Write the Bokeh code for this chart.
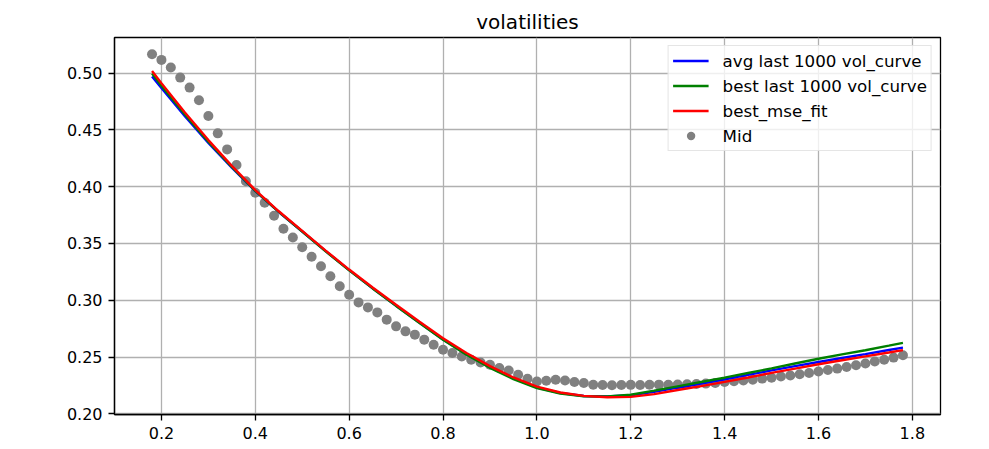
from bokeh.plotting import figure
from bokeh.models import Range1d, FixedTicker, Legend, LegendItem
from bokeh.embed import file_html
from bokeh.resources import INLINE

# ---- data ----
mid_x = [0.18, 0.20, 0.22, 0.24, 0.26, 0.28, 0.30, 0.32, 0.34, 0.36,
         0.38, 0.40, 0.42, 0.44, 0.46, 0.48, 0.50, 0.52, 0.54, 0.56,
         0.58, 0.60, 0.62, 0.64, 0.66, 0.68, 0.70, 0.72, 0.74, 0.76,
         0.78, 0.80, 0.82, 0.84, 0.86, 0.88, 0.90, 0.92, 0.94, 0.96,
         0.98, 1.00, 1.02, 1.04, 1.06, 1.08, 1.10, 1.12, 1.14, 1.16,
         1.18, 1.20, 1.22, 1.24, 1.26, 1.28, 1.30, 1.32, 1.34, 1.36,
         1.38, 1.40, 1.42, 1.44, 1.46, 1.48, 1.50, 1.52, 1.54, 1.56,
         1.58, 1.60, 1.62, 1.64, 1.66, 1.68, 1.70, 1.72, 1.74, 1.76,
         1.78]
mid_vol = [0.5166, 0.5116, 0.5049, 0.4960, 0.4872, 0.4760, 0.4622, 0.4469, 0.4328, 0.4190,
           0.4048, 0.3946, 0.3858, 0.3743, 0.3629, 0.3552, 0.3467, 0.3382, 0.3299, 0.3211,
           0.3123, 0.3049, 0.2981, 0.2937, 0.2893, 0.2829, 0.2770, 0.2726, 0.2697, 0.2653,
           0.2608, 0.2564, 0.2535, 0.2505, 0.2476, 0.2452, 0.2432, 0.2403, 0.2382, 0.2344,
           0.2309, 0.2285, 0.2291, 0.2300, 0.2294, 0.2280, 0.2271, 0.2256, 0.2254, 0.2252,
           0.2253, 0.2255, 0.2254, 0.2256, 0.2257, 0.2256, 0.2258, 0.2260, 0.2262, 0.2266,
           0.2272, 0.2280, 0.2287, 0.2294, 0.2301, 0.2310, 0.2318, 0.2328, 0.2337, 0.2348,
           0.2360, 0.2372, 0.2385, 0.2398, 0.2412, 0.2427, 0.2443, 0.2460, 0.2476, 0.2495,
           0.2515]

curve_x = [0.18, 0.20, 0.25, 0.30, 0.35, 0.40, 0.45, 0.50, 0.55, 0.60,
           0.65, 0.70, 0.75, 0.80, 0.85, 0.90, 0.95, 1.00, 1.05, 1.10,
           1.15, 1.20, 1.25, 1.30, 1.35, 1.40, 1.45, 1.50, 1.55, 1.60,
           1.65, 1.70, 1.75, 1.78]
avg_vol_curve = [0.4970, 0.4868, 0.4620, 0.4385, 0.4167, 0.3960, 0.3777, 0.3605, 0.3432, 0.3265,
                 0.3106, 0.2952, 0.2802, 0.2655, 0.2525, 0.2410, 0.2312, 0.2232, 0.2183, 0.2157,
                 0.2152, 0.2163, 0.2193, 0.2230, 0.2266, 0.2303, 0.2343, 0.2382, 0.2420, 0.2456,
                 0.2491, 0.2526, 0.2562, 0.2583]
best_vol_curve = [0.4995, 0.4888, 0.4636, 0.4395, 0.4173, 0.3963, 0.3778, 0.3605, 0.3430, 0.3263,
                  0.3104, 0.2950, 0.2799, 0.2652, 0.2520, 0.2405, 0.2306, 0.2227, 0.2179, 0.2155,
                  0.2153, 0.2168, 0.2204, 0.2242, 0.2280, 0.2318, 0.2359, 0.2400, 0.2443, 0.2485,
                  0.2523, 0.2560, 0.2600, 0.2625]
best_mse_fit = [0.5018, 0.4910, 0.4652, 0.4410, 0.4183, 0.3970, 0.3783, 0.3610, 0.3437, 0.3270,
                0.3112, 0.2960, 0.2810, 0.2665, 0.2535, 0.2420, 0.2320, 0.2240, 0.2188, 0.2158,
                0.2146, 0.2149, 0.2173, 0.2210, 0.2244, 0.2281, 0.2320, 0.2360, 0.2398, 0.2436,
                0.2472, 0.2506, 0.2540, 0.2561]

x_ticks = [0.2, 0.4, 0.6, 0.8, 1.0, 1.2, 1.4, 1.6, 1.8]
x_tick_labels = ["0.2", "0.4", "0.6", "0.8", "1.0", "1.2", "1.4", "1.6", "1.8"]
y_ticks = [0.20, 0.25, 0.30, 0.35, 0.40, 0.45, 0.50]
y_tick_labels = ["0.20", "0.25", "0.30", "0.35", "0.40", "0.45", "0.50"]

series_labels = ["avg last 1000 vol_curve", "best last 1000 vol_curve", "best_mse_fit", "Mid"]
title_text = "volatilities"

FONT = "DejaVu Sans"

p = figure(frame_width=826, frame_height=377,
           x_range=Range1d(0.10, 1.86), y_range=Range1d(0.1994, 0.5313),
           output_backend="svg", toolbar_location=None,
           min_border_left=114, min_border_right=36,
           min_border_top=37, min_border_bottom=28,
           background_fill_color="white", border_fill_color="white")

p.title.text = title_text
p.title.align = "center"
p.title.text_font = FONT
p.title.text_font_size = "20px"
p.title.text_font_style = "normal"
p.title.text_color = "#000000"
p.title.standoff = 7

p.outline_line_color = "black"
p.outline_line_width = 1.3
p.outline_line_alpha = 1.0

for ax in (p.xaxis[0], p.yaxis[0]):
    ax.axis_line_color = "black"
    ax.axis_line_width = 1.3
    ax.major_tick_line_color = "black"
    ax.major_tick_line_width = 1.3
    ax.major_tick_in = 0
    ax.major_tick_out = 6
    ax.minor_tick_line_color = None
    ax.major_label_text_font = FONT
    ax.major_label_text_font_size = "16px"
    ax.major_label_text_color = "#000000"
    ax.major_label_standoff = 6

p.xaxis[0].ticker = FixedTicker(ticks=x_ticks)
p.xaxis[0].major_label_overrides = {t: l for t, l in zip(x_ticks, x_tick_labels)}
p.yaxis[0].ticker = FixedTicker(ticks=y_ticks)
p.yaxis[0].major_label_overrides = {t: l for t, l in zip(y_ticks, y_tick_labels)}

p.xgrid.grid_line_color = "#b0b0b0"
p.ygrid.grid_line_color = "#b0b0b0"
p.xgrid.grid_line_width = 1.3
p.ygrid.grid_line_width = 1.3

mid_r = p.scatter(mid_x, mid_vol, size=10, color="#808080", line_color=None)
r_avg = p.line(curve_x, avg_vol_curve, line_color="#0000ff", line_width=2.4)
r_best = p.line(curve_x, best_vol_curve, line_color="#008000", line_width=2.4)
r_mse = p.line(curve_x, best_mse_fit, line_color="#ff0000", line_width=2.4)

legend = Legend(items=[
    LegendItem(label=series_labels[0], renderers=[r_avg]),
    LegendItem(label=series_labels[1], renderers=[r_best]),
    LegendItem(label=series_labels[2], renderers=[r_mse]),
    LegendItem(label=series_labels[3], renderers=[mid_r]),
], location="top_right")
legend.margin = 8
legend.padding = 4
legend.spacing = 4
legend.label_height = 21
legend.glyph_height = 21
legend.glyph_width = 36
legend.label_standoff = 14
legend.label_text_font = FONT
legend.label_text_font_size = "16.7px"
legend.label_text_color = "#000000"
legend.border_line_color = "#cccccc"
legend.border_line_width = 1.3
legend.background_fill_alpha = 0.8
p.add_layout(legend)

open("out.html", "w").write(file_html(p, INLINE))
